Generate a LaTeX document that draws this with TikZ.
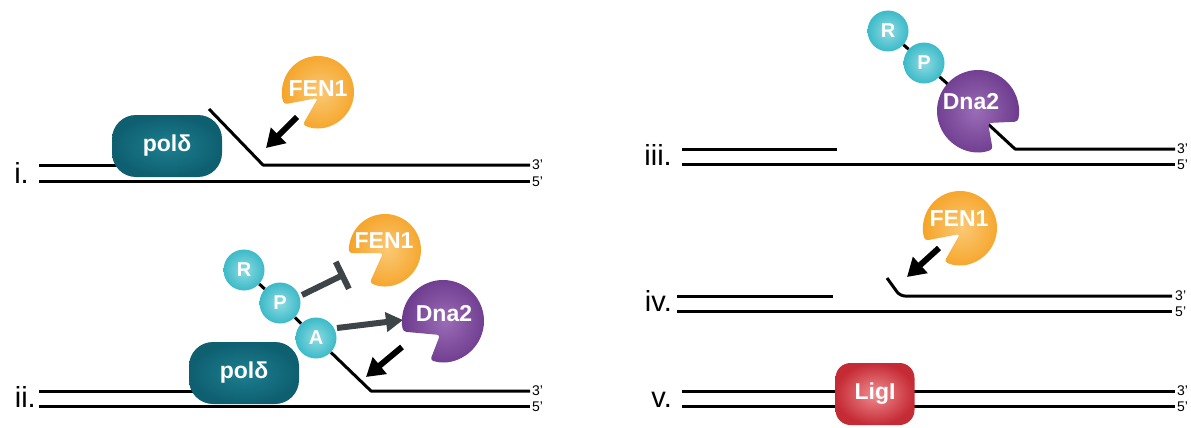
\documentclass[tikz,border=0pt]{standalone}
\usepackage{fontspec}
\setmainfont{Liberation Sans}
\usetikzlibrary{arrows.meta}

\definecolor{fenIn}{HTML}{FBC874}
\definecolor{fenOut}{HTML}{F5A326}
\definecolor{dnaIn}{HTML}{9A6CB6}
\definecolor{dnaOut}{HTML}{6C3A8D}
\definecolor{polIn}{HTML}{1C7F90}
\definecolor{polOut}{HTML}{0E5F70}
\definecolor{rpaIn}{HTML}{8FDBE2}
\definecolor{rpaOut}{HTML}{3CBAC8}
\definecolor{ligIn}{HTML}{F08C90}
\definecolor{ligOut}{HTML}{C52B35}
\definecolor{linkgray}{HTML}{3E4548}

\tikzset{
  strand/.style={line width=3pt, line join=round},
  endtag/.style={font=\fontsize{14}{14}\selectfont, anchor=west, inner sep=0pt},
  stage/.style={font=\fontsize{29}{29}\selectfont, anchor=base east, inner sep=0pt},
  prot/.style={text=white, font=\bfseries\fontsize{23}{23}\selectfont, inner sep=0pt},
  polbox/.style={prot, shade, inner color=polIn, outer color=polOut,
    rounded corners=24pt, minimum width=110pt, minimum height=62pt},
  ligbox/.style={prot, shade, inner color=ligIn, outer color=ligOut,
    rounded corners=15pt, minimum width=79pt, minimum height=62pt},
  rpa/.style={circle, shade, inner color=rpaIn, outer color=rpaOut,
    minimum size=41pt, inner sep=0pt, text=white,
    font=\bfseries\fontsize{20}{20}\selectfont},
  push/.style={line width=6pt, -{Triangle[length=18pt,width=21pt]}},
  stimulate/.style={linkgray, line width=6pt, -{Triangle[length=17pt,width=19pt]}},
  inhibit/.style={linkgray, line width=6pt, -{Bar[width=30pt]}},
}

% Pac-man shaped enzyme: #1 placement, #2 radius, #3 upper lip angle,
% #4 lower lip angle, #5 mouth vertex (local), #6 colour prefix
\newcommand\pacblob[6]{%
  \begin{scope}[#1, yscale=-1]
    \shade[inner color=#6In, outer color=#6Out, rounded corners=3pt]
      (#4:#2) arc[start angle=#4, end angle=#3+360, radius=#2] -- #5 -- cycle;
  \end{scope}}

\begin{document}
\begin{tikzpicture}[x=1pt, y=-1pt]
\useasboundingbox (0,0) rectangle (1191,428);

% ---------------- i. ----------------
\node[stage] (lab1) at (29,183) {i.};
\coordinate (i1a) at (39,165);   \coordinate (i1b) at (185,165);
\coordinate (i1f) at (209,109);  \coordinate (i1k) at (263,165);
\coordinate (i1e) at (530,165);
\coordinate (i2a) at (39,181.5); \coordinate (i2e) at (530,181.5);
\draw[strand] (i1a) -- (i1b);
\draw[strand] (i1f) -- (i1k) -- (i1e);
\draw[strand] (i2a) -- (i2e);
\node[endtag] (i3p) at (532,165) {3'};
\node[endtag] (i5p) at (532,182) {5'};
\node[polbox] (pol1) at (167,146) {polδ};
\pacblob{shift={(318,92)}}{36}{200}{245}{(0,-6)}{fen}
\node[prot] (fen1) at (318,89) {FEN1};
\coordinate (fa1) at (297,117); \coordinate (fa2) at (266,148);
\draw[push] (fa1) -- (fa2);

% ---------------- ii. ----------------
\node[stage] (lab2) at (36,407) {ii.};
\coordinate (j1a) at (39,391);  \coordinate (j1b) at (250,391);
\coordinate (j1k) at (371,391); \coordinate (j1e) at (530,391);
\coordinate (j2a) at (39,406);  \coordinate (j2e) at (530,406);
\draw[strand] (j1a) -- (j1b);
\draw[strand] (j2a) -- (j2e);
\node[endtag] (j3p) at (532,391) {3'};
\node[endtag] (j5p) at (532,406.5) {5'};
\node[polbox] (pol2) at (244,373) {polδ};
\node[rpa] (r2) at (244,270) {R};
\node[rpa] (p2) at (280,303) {P};
\node[rpa] (a2) at (316,338) {A};
\draw[strand] (r2) -- (p2);
\draw[strand] (p2) -- (a2);
\draw[strand] (a2) -- (j1k) -- (j1e);
\pacblob{shift={(385,250)}}{36}{185}{245}{(-2,-3)}{fen}
\node[prot] (fen2) at (384,241) {FEN1};
\pacblob{shift={(443,321)}}{41}{195}{252}{(-3,-14)}{dna}
\node[prot] (dna2) at (444,314) {Dna2};
\coordinate (tb1) at (302,295); \coordinate (tb2) at (345,274);
\draw[inhibit] (tb1) -- (tb2);
\coordinate (ga1) at (337,328); \coordinate (ga2) at (403,320);
\draw[stimulate] (ga1) -- (ga2);
\coordinate (da1) at (402,347); \coordinate (da2) at (366,377);
\draw[push] (da1) -- (da2);

% ---------------- iii. ----------------
\node[stage] (lab3) at (672,165) {iii.};
\coordinate (k1a) at (682,149);  \coordinate (k1b) at (837,149);
\coordinate (k1f) at (988,124);  \coordinate (k1k) at (1015,149);
\coordinate (k1e) at (1175,149);
\coordinate (k2a) at (682,164);  \coordinate (k2e) at (1175,164);
\draw[strand] (k1a) -- (k1b);
\draw[strand] (k1f) -- (k1k) -- (k1e);
\draw[strand] (k2a) -- (k2e);
\node[endtag] (k3p) at (1177,149) {3'};
\node[endtag] (k5p) at (1177,164.5) {5'};
\node[rpa] (r3) at (888,31) {R};
\node[rpa] (p3) at (924,63) {P};
\coordinate (dna3c) at (978,111);
\draw[strand] (r3) -- (p3);
\draw[strand] (p3) -- (dna3c);
\pacblob{shift={(978,111)}, xscale=-1}{41}{195}{249}{(-10,-12)}{dna}
\node[prot] (dna3) at (971,102) {Dna2};

% ---------------- iv. ----------------
\node[stage] (lab4) at (672,311) {iv.};
\coordinate (m1a) at (677,296);  \coordinate (m1b) at (833,296);
\coordinate (m1f) at (887,278);  \coordinate (m1k) at (900,296);
\coordinate (m1e) at (1172,296);
\coordinate (m2a) at (677,311);  \coordinate (m2e) at (1172,311);
\draw[strand] (m1a) -- (m1b);
\draw[strand, rounded corners=5pt] (m1f) -- (m1k) -- (m1e);
\draw[strand] (m2a) -- (m2e);
\node[endtag] (m3p) at (1175,296) {3'};
\node[endtag] (m5p) at (1175,311.5) {5'};
\pacblob{shift={(960,228)}}{37}{200}{245}{(0,-6)}{fen}
\node[prot] (fen4) at (959,219) {FEN1};
\coordinate (fb1) at (939,248); \coordinate (fb2) at (907,277);
\draw[push] (fb1) -- (fb2);

% ---------------- v. ----------------
\node[stage] (lab5) at (672,407) {v.};
\coordinate (n1a) at (682,391);  \coordinate (n1e) at (1175,391);
\coordinate (n2a) at (682,406.5); \coordinate (n2e) at (1175,406.5);
\draw[strand] (n1a) -- (n1e);
\draw[strand] (n2a) -- (n2e);
\node[endtag] (n3p) at (1177,391) {3'};
\node[endtag] (n5p) at (1177,407) {5'};
\node[ligbox] (lig) at (875,394) {LigI};

\end{tikzpicture}
\end{document}
